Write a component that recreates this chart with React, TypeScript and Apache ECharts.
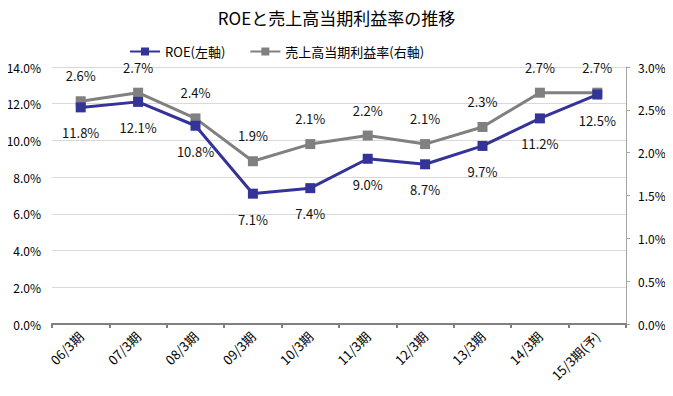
import React, { useEffect, useRef } from "react";
import * as echarts from "echarts";

const categories = ["06/3期", "07/3期", "08/3期", "09/3期", "10/3期", "11/3期", "12/3期", "13/3期", "14/3期", "15/3期(予)"];
const roe = [11.8, 12.1, 10.8, 7.1, 7.4, 9.0, 8.7, 9.7, 11.2, 12.5];
const margin = [2.6, 2.7, 2.4, 1.9, 2.1, 2.2, 2.1, 2.3, 2.7, 2.7];
const roeName = "ROE(左軸)";
const marginName = "売上高当期利益率(右軸)";

const FONT = "'Noto Sans CJK JP', 'Noto Sans', sans-serif";

export default function App() {
  const ref = useRef<HTMLDivElement>(null);
  useEffect(() => {
    const chart = echarts.init(ref.current!, null, { renderer: "svg" });
    chart.setOption({
      animation: false,
      backgroundColor: "#ffffff",
      textStyle: { fontFamily: FONT },
      title: {
        text: "ROEと売上高当期利益率の推移",
        left: "center",
        top: 4,
        textStyle: { fontSize: 17, fontWeight: "normal", color: "#000", fontFamily: FONT },
      },
      legend: {
        top: 40,
        left: 124,
        itemWidth: 30,
        itemHeight: 10,
        itemGap: 24,
        textStyle: { fontSize: 13, color: "#000", fontFamily: FONT },
        data: [roeName, marginName],
      },
      grid: { left: 52, right: 47, top: 67, bottom: 72, containLabel: false },
      xAxis: {
        type: "category",
        data: categories,
        boundaryGap: true,
        axisLine: { show: true, lineStyle: { color: "#808080", width: 2 } },
        axisTick: { show: true, alignWithLabel: false, length: 4, lineStyle: { color: "#808080", width: 2 } },
        axisLabel: { rotate: 45, fontSize: 13, color: "#000", margin: 10, fontFamily: FONT },
      },
      yAxis: [
        {
          type: "value",
          min: 0,
          max: 14,
          interval: 2,
          axisLine: { show: false },
          axisTick: { show: false },
          splitLine: { lineStyle: { color: "#d9d9d9", width: 1 } },
          axisLabel: { formatter: (v: number) => v.toFixed(1) + "%", fontSize: 12, color: "#000", margin: 11 },
        },
        {
          type: "value",
          min: 0,
          max: 3,
          interval: 0.5,
          position: "right",
          axisLine: { show: true, lineStyle: { color: "#a6a6a6", width: 1 } },
          axisTick: { show: true, length: 4, lineStyle: { color: "#a6a6a6" } },
          splitLine: { show: false },
          axisLabel: { formatter: (v: number) => v.toFixed(1) + "%", fontSize: 12, color: "#000", margin: 12 },
        },
      ],
      series: [
        {
          name: roeName,
          type: "line",
          yAxisIndex: 0,
          data: roe,
          symbol: "rect",
          symbolSize: 10,
          color: "#333399",
          lineStyle: { width: 3, color: "#333399" },
          itemStyle: { color: "#333399" },
          label: {
            show: true,
            position: "bottom",
            distance: 14,
            formatter: (p: any) => p.value.toFixed(1) + "%",
            fontSize: 13,
            color: "#111",
          },
          z: 3,
        },
        {
          name: marginName,
          type: "line",
          yAxisIndex: 1,
          data: margin,
          symbol: "rect",
          symbolSize: 10,
          color: "#808080",
          lineStyle: { width: 3, color: "#808080" },
          itemStyle: { color: "#808080" },
          label: {
            show: true,
            position: "top",
            distance: 14,
            formatter: (p: any) => p.value.toFixed(1) + "%",
            fontSize: 13,
            color: "#111",
          },
          z: 2,
        },
      ],
    });
    return () => chart.dispose();
  }, []);
  return <div ref={ref} style={{ width: 673, height: 396, margin: -8 }} />;
}
